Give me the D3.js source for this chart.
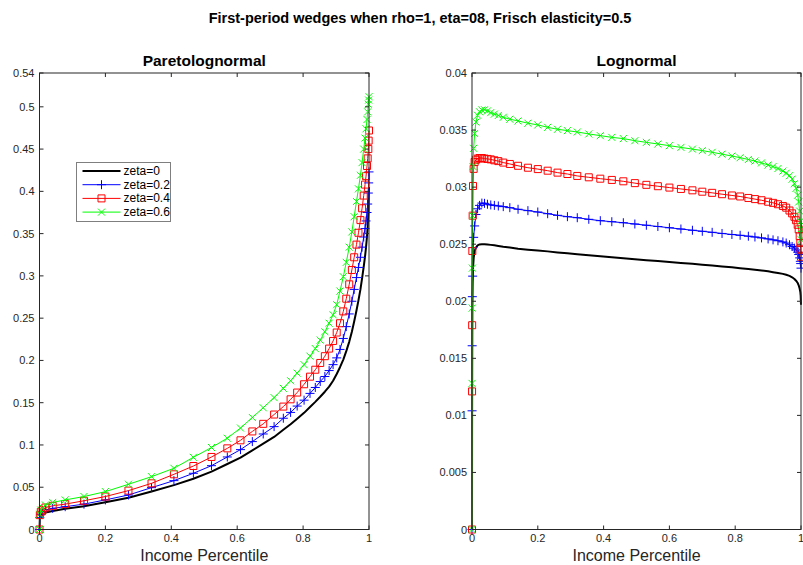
<!DOCTYPE html>
<html>
<head>
<meta charset="utf-8">
<script src="https://cdn.jsdelivr.net/npm/d3@7"></script>
<style>
  body { margin: 0; background: #fff; }
  svg { font-family: "Liberation Sans", Arial, Helvetica, sans-serif; }
</style>
</head>
<body>
<div id="chart"></div>
<script>
const title = "First-period wedges when rho=1, eta=08, Frisch elasticity=0.5";
const panelTitles = ["Paretolognormal", "Lognormal"];
const seriesNames = ["zeta=0", "zeta=0.2", "zeta=0.4", "zeta=0.6"];
const xTicks = [0, 0.2, 0.4, 0.6, 0.8, 1];
const leftYTicks = [0, 0.05, 0.1, 0.15, 0.2, 0.25, 0.3, 0.35, 0.4, 0.45, 0.5, 0.54];
const rightYTicks = [0, 0.005, 0.01, 0.015, 0.02, 0.025, 0.03, 0.035, 0.04];

// Paretolognormal panel
const leftX = [0, 0.001, 0.004, 0.009, 0.018, 0.04, 0.078, 0.135, 0.2, 0.27, 0.34, 0.408, 0.467, 0.522, 0.57, 0.61,
  0.646, 0.679, 0.712, 0.74, 0.762, 0.782, 0.803, 0.821, 0.837, 0.852, 0.866, 0.879, 0.891, 0.902, 0.912, 0.922,
  0.931, 0.94, 0.948, 0.955, 0.962, 0.968, 0.974, 0.979, 0.984, 0.988, 0.991, 0.994, 0.996, 0.998, 0.999, 1];
const leftZeta0 = [0, 0.012, 0.016, 0.018, 0.02, 0.022, 0.0245, 0.0275, 0.0322, 0.0375, 0.045, 0.0525, 0.06, 0.0685, 0.0775, 0.085,
  0.0935, 0.1015, 0.1095, 0.118, 0.1245, 0.131, 0.138, 0.145, 0.151, 0.157, 0.163, 0.169, 0.176, 0.184, 0.192, 0.201,
  0.211, 0.222, 0.234, 0.246, 0.259, 0.271, 0.284, 0.297, 0.311, 0.323, 0.334, 0.347, 0.358, 0.373, 0.387, 0.405];
const leftZeta02 = [0, 0.014, 0.018, 0.0205, 0.023, 0.025, 0.027, 0.03, 0.035, 0.0408, 0.0495, 0.0578, 0.0665, 0.0755, 0.0858, 0.0945,
  0.104, 0.113, 0.1217, 0.1316, 0.1385, 0.146, 0.153, 0.161, 0.168, 0.175, 0.181, 0.188, 0.195, 0.203, 0.213, 0.226,
  0.24, 0.255, 0.27, 0.284, 0.298, 0.31, 0.322, 0.334, 0.346, 0.356, 0.365, 0.375, 0.385, 0.398, 0.41, 0.423];
const leftZeta04 = [0, 0.017, 0.021, 0.023, 0.026, 0.028, 0.03, 0.034, 0.039, 0.046, 0.0546, 0.0653, 0.0751, 0.0858, 0.096, 0.1055,
  0.116, 0.125, 0.136, 0.1454, 0.154, 0.162, 0.1718, 0.1808, 0.189, 0.197, 0.205, 0.214, 0.223, 0.233, 0.244, 0.258,
  0.273, 0.29, 0.307, 0.322, 0.337, 0.351, 0.366, 0.38, 0.395, 0.408, 0.418, 0.43, 0.439, 0.45, 0.46, 0.472];
const leftZeta06 = [0, 0.018, 0.023, 0.026, 0.029, 0.032, 0.035, 0.039, 0.0448, 0.0535, 0.0625, 0.0724, 0.0854, 0.097, 0.108, 0.12,
  0.1325, 0.144, 0.156, 0.167, 0.176, 0.185, 0.195, 0.205, 0.214, 0.224, 0.234, 0.244, 0.254, 0.266, 0.282, 0.299,
  0.316, 0.334, 0.352, 0.37, 0.388, 0.403, 0.419, 0.434, 0.45, 0.463, 0.474, 0.485, 0.494, 0.503, 0.508, 0.512];

// Lognormal panel
const rightX = [0, 0.0002, 0.0005, 0.001, 0.002, 0.003, 0.005, 0.008, 0.012, 0.017, 0.023, 0.03, 0.038, 0.047, 0.057, 0.068,
  0.08, 0.095, 0.115, 0.14, 0.17, 0.2, 0.23, 0.26, 0.29, 0.32, 0.355, 0.39, 0.425, 0.46, 0.495, 0.53,
  0.565, 0.6, 0.635, 0.67, 0.7, 0.73, 0.76, 0.79, 0.815, 0.84, 0.86, 0.88, 0.9, 0.915, 0.93, 0.945,
  0.955, 0.965, 0.973, 0.98, 0.985, 0.99, 0.993, 0.996, 0.998, 0.999, 1];
const rightZeta0 = [0, 0.008, 0.014, 0.019, 0.0218, 0.0229, 0.0238, 0.0244, 0.0247, 0.0249, 0.02498, 0.025, 0.025, 0.02497, 0.02494, 0.0249,
  0.02485, 0.02478, 0.0247, 0.0246, 0.02452, 0.02445, 0.02437, 0.02428, 0.0242, 0.02412, 0.02403, 0.02395, 0.02386, 0.02377, 0.02368, 0.0236,
  0.02352, 0.02344, 0.02336, 0.02328, 0.0232, 0.02313, 0.02305, 0.02297, 0.0229, 0.02283, 0.02277, 0.0227, 0.02262, 0.02255, 0.02248, 0.0224,
  0.02232, 0.02222, 0.0221, 0.02195, 0.0218, 0.0216, 0.0214, 0.0211, 0.0208, 0.0205, 0.0197];
const rightZeta02 = [0, 0.0104, 0.0161, 0.0204, 0.0222, 0.0247, 0.0256, 0.0266, 0.0276, 0.0281, 0.0284, 0.0286, 0.02858, 0.0285, 0.02844, 0.0284,
  0.02835, 0.02829, 0.0282, 0.02806, 0.02794, 0.02782, 0.02767, 0.02753, 0.02741, 0.02732, 0.02718, 0.02706, 0.02697, 0.02688, 0.02677, 0.02666,
  0.02655, 0.02644, 0.02633, 0.02622, 0.02613, 0.02604, 0.02594, 0.02585, 0.02578, 0.0257, 0.02563, 0.02555, 0.02546, 0.02538, 0.0253, 0.0252,
  0.0251, 0.02495, 0.0248, 0.02465, 0.0245, 0.0243, 0.0241, 0.0238, 0.0235, 0.0233, 0.0229];
const rightZeta04 = [0, 0.0121, 0.0179, 0.0244, 0.0275, 0.0301, 0.0316, 0.0322, 0.0324, 0.0325, 0.03255, 0.03255, 0.0325, 0.03247, 0.03243, 0.03235,
  0.03228, 0.03215, 0.03203, 0.03187, 0.0317, 0.03158, 0.03144, 0.03127, 0.03115, 0.03098, 0.03086, 0.03074, 0.03063, 0.03051, 0.03035, 0.0302,
  0.03008, 0.02996, 0.02984, 0.02972, 0.0296, 0.0295, 0.02938, 0.02927, 0.02918, 0.02905, 0.02895, 0.02885, 0.02872, 0.02862, 0.0285, 0.02835,
  0.0282, 0.02795, 0.0277, 0.0274, 0.0271, 0.0267, 0.0263, 0.0257, 0.0251, 0.0246, 0.0239];
const rightZeta06 = [0, 0.0128, 0.0194, 0.0229, 0.0275, 0.0318, 0.0334, 0.0347, 0.0357, 0.0363, 0.0366, 0.03676, 0.03678, 0.03668, 0.03653, 0.0364,
  0.03628, 0.03612, 0.03595, 0.0358, 0.0356, 0.03545, 0.03524, 0.03507, 0.03495, 0.03483, 0.03466, 0.03451, 0.03436, 0.03425, 0.03407, 0.03392,
  0.03378, 0.03363, 0.03348, 0.03333, 0.0332, 0.03305, 0.03289, 0.03272, 0.03258, 0.03242, 0.03228, 0.03212, 0.03194, 0.0318, 0.03163, 0.0314,
  0.03122, 0.031, 0.0307, 0.0303, 0.0299, 0.0293, 0.0287, 0.0279, 0.027, 0.0263, 0.0254];

const styles = [
  { color: "#000000", width: 2, marker: null },
  { color: "#0000ff", width: 1, marker: "plus" },
  { color: "#ff0000", width: 1, marker: "square" },
  { color: "#00ff00", width: 1, marker: "x" },
];

const axisColor = "#262626";
const width = 803, height = 565;
const yBottom = 529.5, yTop = 73;

const svg = d3.select("#chart").append("svg")
  .attr("width", width)
  .attr("height", height)
  .attr("viewBox", [0, 0, width, height]);

svg.append("text")
  .attr("x", 420).attr("y", 23)
  .attr("text-anchor", "middle")
  .attr("font-weight", "bold")
  .attr("font-size", 14.5)
  .attr("fill", "#000")
  .text(title);

const markerPath = {
  plus: "M-4.5,0H4.5M0,-4.5V4.5",
  x: "M-3.5,-3.5L3.5,3.5M-3.5,3.5L3.5,-3.5",
  square: "M-3.5,-3.5H3.5V3.5H-3.5Z",
};

function panel(cfg) {
  const x = d3.scaleLinear().domain([0, 1]).range([cfg.left, cfg.right]);
  const y = d3.scaleLinear().domain([0, cfg.yMax]).range([yBottom, yTop]);
  const g = svg.append("g");

  // series, drawn in order so green ends on top
  cfg.series.forEach((vals, i) => {
    const st = styles[i];
    const pts = cfg.xs.map((d, j) => [d, vals[j]]);
    g.append("path")
      .attr("fill", "none")
      .attr("stroke", st.color)
      .attr("stroke-width", st.width)
      .attr("stroke-linejoin", "round")
      .attr("d", d3.line().x(d => x(d[0])).y(d => y(d[1]))(pts));
    if (st.marker) {
      g.append("g").selectAll("path")
        .data(pts)
        .join("path")
        .attr("transform", d => `translate(${x(d[0])},${y(d[1])})`)
        .attr("d", markerPath[st.marker])
        .attr("fill", "none")
        .attr("stroke", st.color)
        .attr("stroke-width", 1);
    }
  });

  // box with inward ticks on all sides
  const ax = svg.append("g").attr("stroke", axisColor).attr("fill", "none");
  ax.append("rect")
    .attr("x", cfg.left).attr("y", yTop)
    .attr("width", cfg.right - cfg.left).attr("height", yBottom - yTop)
    .attr("stroke-width", 1);

  const tl = 4;
  xTicks.forEach(t => {
    ax.append("line").attr("x1", x(t)).attr("x2", x(t)).attr("y1", yBottom).attr("y2", yBottom - tl);
    ax.append("line").attr("x1", x(t)).attr("x2", x(t)).attr("y1", yTop).attr("y2", yTop + tl);
  });
  cfg.yTicks.forEach(t => {
    ax.append("line").attr("x1", cfg.left).attr("x2", cfg.left + tl).attr("y1", y(t)).attr("y2", y(t));
    ax.append("line").attr("x1", cfg.right).attr("x2", cfg.right - tl).attr("y1", y(t)).attr("y2", y(t));
  });

  const lab = svg.append("g").attr("font-size", 11).attr("fill", axisColor);
  lab.selectAll(".xt").data(xTicks).join("text")
    .attr("x", d => x(d)).attr("y", 542)
    .attr("text-anchor", "middle")
    .text(d => d3.format("")(d));
  lab.selectAll(".yt").data(cfg.yTicks).join("text")
    .attr("x", cfg.left - 5).attr("y", d => y(d) + 4)
    .attr("text-anchor", "end")
    .text(d => d3.format("")(d));

  svg.append("text")
    .attr("x", (cfg.left + cfg.right) / 2).attr("y", 561)
    .attr("text-anchor", "middle")
    .attr("font-size", 16)
    .attr("fill", axisColor)
    .text("Income Percentile");

  svg.append("text")
    .attr("x", (cfg.left + cfg.right) / 2).attr("y", 66)
    .attr("text-anchor", "middle")
    .attr("font-size", 15.5)
    .attr("font-weight", "bold")
    .attr("fill", "#000")
    .text(cfg.title);
}

panel({
  left: 39.5, right: 369, yMax: 0.54, yTicks: leftYTicks, title: panelTitles[0],
  xs: leftX, series: [leftZeta0, leftZeta02, leftZeta04, leftZeta06],
});
panel({
  left: 472, right: 801, yMax: 0.04, yTicks: rightYTicks, title: panelTitles[1],
  xs: rightX, series: [rightZeta0, rightZeta02, rightZeta04, rightZeta06],
});

// legend
const leg = svg.append("g").attr("transform", "translate(76.5,162.5)");
leg.append("rect")
  .attr("width", 94).attr("height", 59)
  .attr("fill", "#fff")
  .attr("stroke", "#7f7f7f")
  .attr("stroke-width", 1);
seriesNames.forEach((name, i) => {
  const st = styles[i];
  const yy = 8.5 + i * 13.7;
  leg.append("line")
    .attr("x1", 6).attr("x2", 44).attr("y1", yy).attr("y2", yy)
    .attr("stroke", st.color).attr("stroke-width", st.width);
  if (st.marker) {
    leg.append("path")
      .attr("transform", `translate(25,${yy})`)
      .attr("d", markerPath[st.marker])
      .attr("fill", "none").attr("stroke", st.color);
  }
  leg.append("text")
    .attr("x", 47).attr("y", yy + 4)
    .attr("font-size", 12)
    .attr("fill", "#000")
    .text(name);
});
</script>
</body>
</html>
